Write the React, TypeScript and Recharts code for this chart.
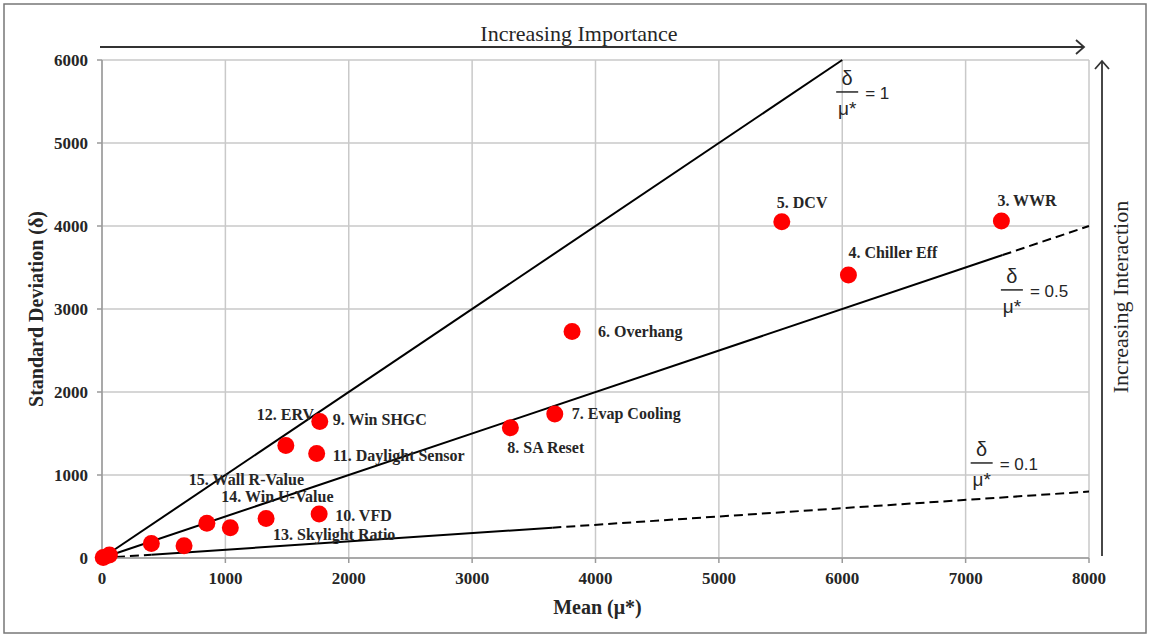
import React from 'react';
import { ScatterChart, Scatter, XAxis, YAxis, CartesianGrid, ReferenceLine, ReferenceDot, Label } from 'recharts';

// factor screening results (Morris method)
const factorNames = [
  '3. WWR', '4. Chiller Eff', '5. DCV', '6. Overhang', '7. Evap Cooling', '8. SA Reset',
  '9. Win SHGC', '10. VFD', '11. Daylight Sensor', '12. ERV', '13. Skylight Ratio',
  '14. Win U-Value', '15. Wall R-Value', '', '', '', '',
];
const meanValues = [7290, 6050, 5510, 3810, 3670, 3310, 1765, 1760, 1740, 1490, 1330, 1040, 850, 665, 400, 60, 10];
const stdValues = [4060, 3410, 4050, 2730, 1735, 1570, 1645, 530, 1260, 1355, 475, 365, 420, 148, 175, 35, 5];

const xTicks = [0, 1000, 2000, 3000, 4000, 5000, 6000, 7000, 8000];
const yTicks = [0, 1000, 2000, 3000, 4000, 5000, 6000];

// δ/μ* reference lines, split into solid / dashed pieces
const ratioPieces = [
  { ratio: 1, from: 0, to: 6000, dashed: false },
  { ratio: 0.5, from: 0, to: 7300, dashed: false },
  { ratio: 0.5, from: 7300, to: 8000, dashed: true },
  { ratio: 0.1, from: 0, to: 400, dashed: true },
  { ratio: 0.1, from: 400, to: 3650, dashed: false },
  { ratio: 0.1, from: 3650, to: 8000, dashed: true },
];

// where the δ/μ* fraction notes sit (data coords)
const ratioNotes = ['1', '0.5', '0.1'];
const ratioNoteMean = [6040, 7375, 7130];
const ratioNoteStd = [5615, 3230, 1145];

// label offsets from the dot, px
const labelOffsets: Record<string, [number, number]> = {
  '3. WWR': [-4, -21],
  '4. Chiller Eff': [0, -22],
  '5. DCV': [-5, -19],
  '6. Overhang': [26, 0],
  '7. Evap Cooling': [17, 0],
  '8. SA Reset': [-3, 20],
  '9. Win SHGC': [13, -2],
  '10. VFD': [16, 1],
  '11. Daylight Sensor': [16, 2],
  '12. ERV': [-29, -31],
  '13. Skylight Ratio': [7, 16],
  '14. Win U-Value': [-9, -31],
  '15. Wall R-Value': [-18, -44],
};

const points = factorNames.map((name, i) => ({ name, x: meanValues[i], y: stdValues[i] }));

const SERIF = '"Liberation Serif", "Times New Roman", serif';
const SANS = '"Liberation Sans", Arial, sans-serif';
const INK = '#262626';

// eslint-disable-next-line @typescript-eslint/no-explicit-any
const renderDot = (props: any) => {
  const { cx, cy, payload } = props;
  const off = labelOffsets[payload.name];
  return (
    <g>
      <circle cx={cx} cy={cy} r={8.5} fill="#ff0000" />
      {off && (
        <text x={cx + off[0]} y={cy + off[1]} dominantBaseline="central" fontFamily={SERIF}
          fontWeight={700} fontSize={16} fill={INK}>
          {payload.name}
        </text>
      )}
    </g>
  );
};

const fractionNote = (value: string) => {
  // eslint-disable-next-line @typescript-eslint/no-explicit-any
  return (props: any) => {
    const { cx, cy } = props;
    return (
      <g fontFamily={SANS} fill={INK}>
        <text x={cx} y={cy - 14} textAnchor="middle" dominantBaseline="central" fontSize={20}>δ</text>
        <line x1={cx - 11} x2={cx + 11} y1={cy} y2={cy} stroke={INK} strokeWidth={1.5} />
        <text x={cx} y={cy + 17} textAnchor="middle" dominantBaseline="central" fontSize={19}>μ*</text>
        <text x={cx + 18} y={cy + 2} dominantBaseline="central" fontSize={17}>= {value}</text>
      </g>
    );
  };
};

export default function App() {
  return (
    <div style={{ position: 'absolute', left: 0, top: 0, width: 1151, height: 637, background: '#fff' }}>
      <ScatterChart width={1151} height={637} margin={{ top: 60, right: 62, bottom: 0, left: 0 }}>
        <CartesianGrid stroke="#c9c9c9" strokeWidth={1.5} />
        <XAxis type="number" dataKey="x" domain={[0, 8000]} ticks={xTicks} height={79}
          stroke="#9a9a9a" strokeWidth={1.5} tickSize={5} tickMargin={9}
          tick={{ fontFamily: SERIF, fontWeight: 700, fontSize: 17, fill: INK }}>
          <Label content={(p: any) => {
            const vb = p.viewBox || { x: 102, y: 558, width: 987 };
            return (
              <text x={vb.x + vb.width / 2 + 2} y={vb.y + 49} textAnchor="middle" dominantBaseline="central"
                fontFamily={SERIF} fontWeight={700} fontSize={20} fill={INK}>Mean (μ*)</text>
            );
          }} />
        </XAxis>
        <YAxis type="number" dataKey="y" domain={[0, 6000]} ticks={yTicks} width={102}
          stroke="#9a9a9a" strokeWidth={1.5} tickSize={5} tickMargin={9}
          tick={{ fontFamily: SERIF, fontWeight: 700, fontSize: 17, fill: INK }}>
          <Label content={(p: any) => {
            const vb = p.viewBox || { x: 0, y: 60, width: 102, height: 498 };
            const cx = vb.x + 36;
            const cy = vb.y + vb.height / 2;
            return (
              <text x={cx} y={cy} textAnchor="middle" dominantBaseline="central" transform={`rotate(-90 ${cx} ${cy})`}
                fontFamily={SERIF} fontWeight={700} fontSize={20} fill={INK}>Standard Deviation (δ)</text>
            );
          }} />
        </YAxis>
        {ratioPieces.map((s, i) => (
          <ReferenceLine key={i} segment={[{ x: s.from, y: s.from * s.ratio }, { x: s.to, y: s.to * s.ratio }]}
            stroke="#000" strokeWidth={2} strokeDasharray={s.dashed ? '9 5' : undefined} ifOverflow="visible" />
        ))}
        {ratioNotes.map((v, i) => (
          <ReferenceDot key={v} x={ratioNoteMean[i]} y={ratioNoteStd[i]} r={0} shape={fractionNote(v)} ifOverflow="visible" />
        ))}
        <Scatter data={points} shape={renderDot} isAnimationActive={false} />
      </ScatterChart>
      <svg width={1151} height={637} style={{ position: 'absolute', left: 0, top: 0, pointerEvents: 'none' }}>
        <rect x={4} y={4} width={1142} height={629} fill="none" stroke="#777" strokeWidth={1.5} />
        <line x1={100} y1={47} x2={1084} y2={47} stroke="#333" strokeWidth={1.8} />
        <polyline points="1076,40 1084,47 1076,54" fill="none" stroke="#333" strokeWidth={1.8} />
        <text x={579} y={33} textAnchor="middle" dominantBaseline="central" fontFamily={SERIF} fontSize={22} fill={INK}>
          Increasing Importance
        </text>
        <line x1={1102} y1={556} x2={1102} y2={61} stroke="#333" strokeWidth={1.8} />
        <polyline points="1095,69 1102,61 1109,69" fill="none" stroke="#333" strokeWidth={1.8} />
        <text x={1120} y={297} textAnchor="middle" dominantBaseline="central" transform="rotate(-90 1120 297)"
          fontFamily={SERIF} fontSize={22} fill={INK}>
          Increasing Interaction
        </text>
      </svg>
    </div>
  );
}
